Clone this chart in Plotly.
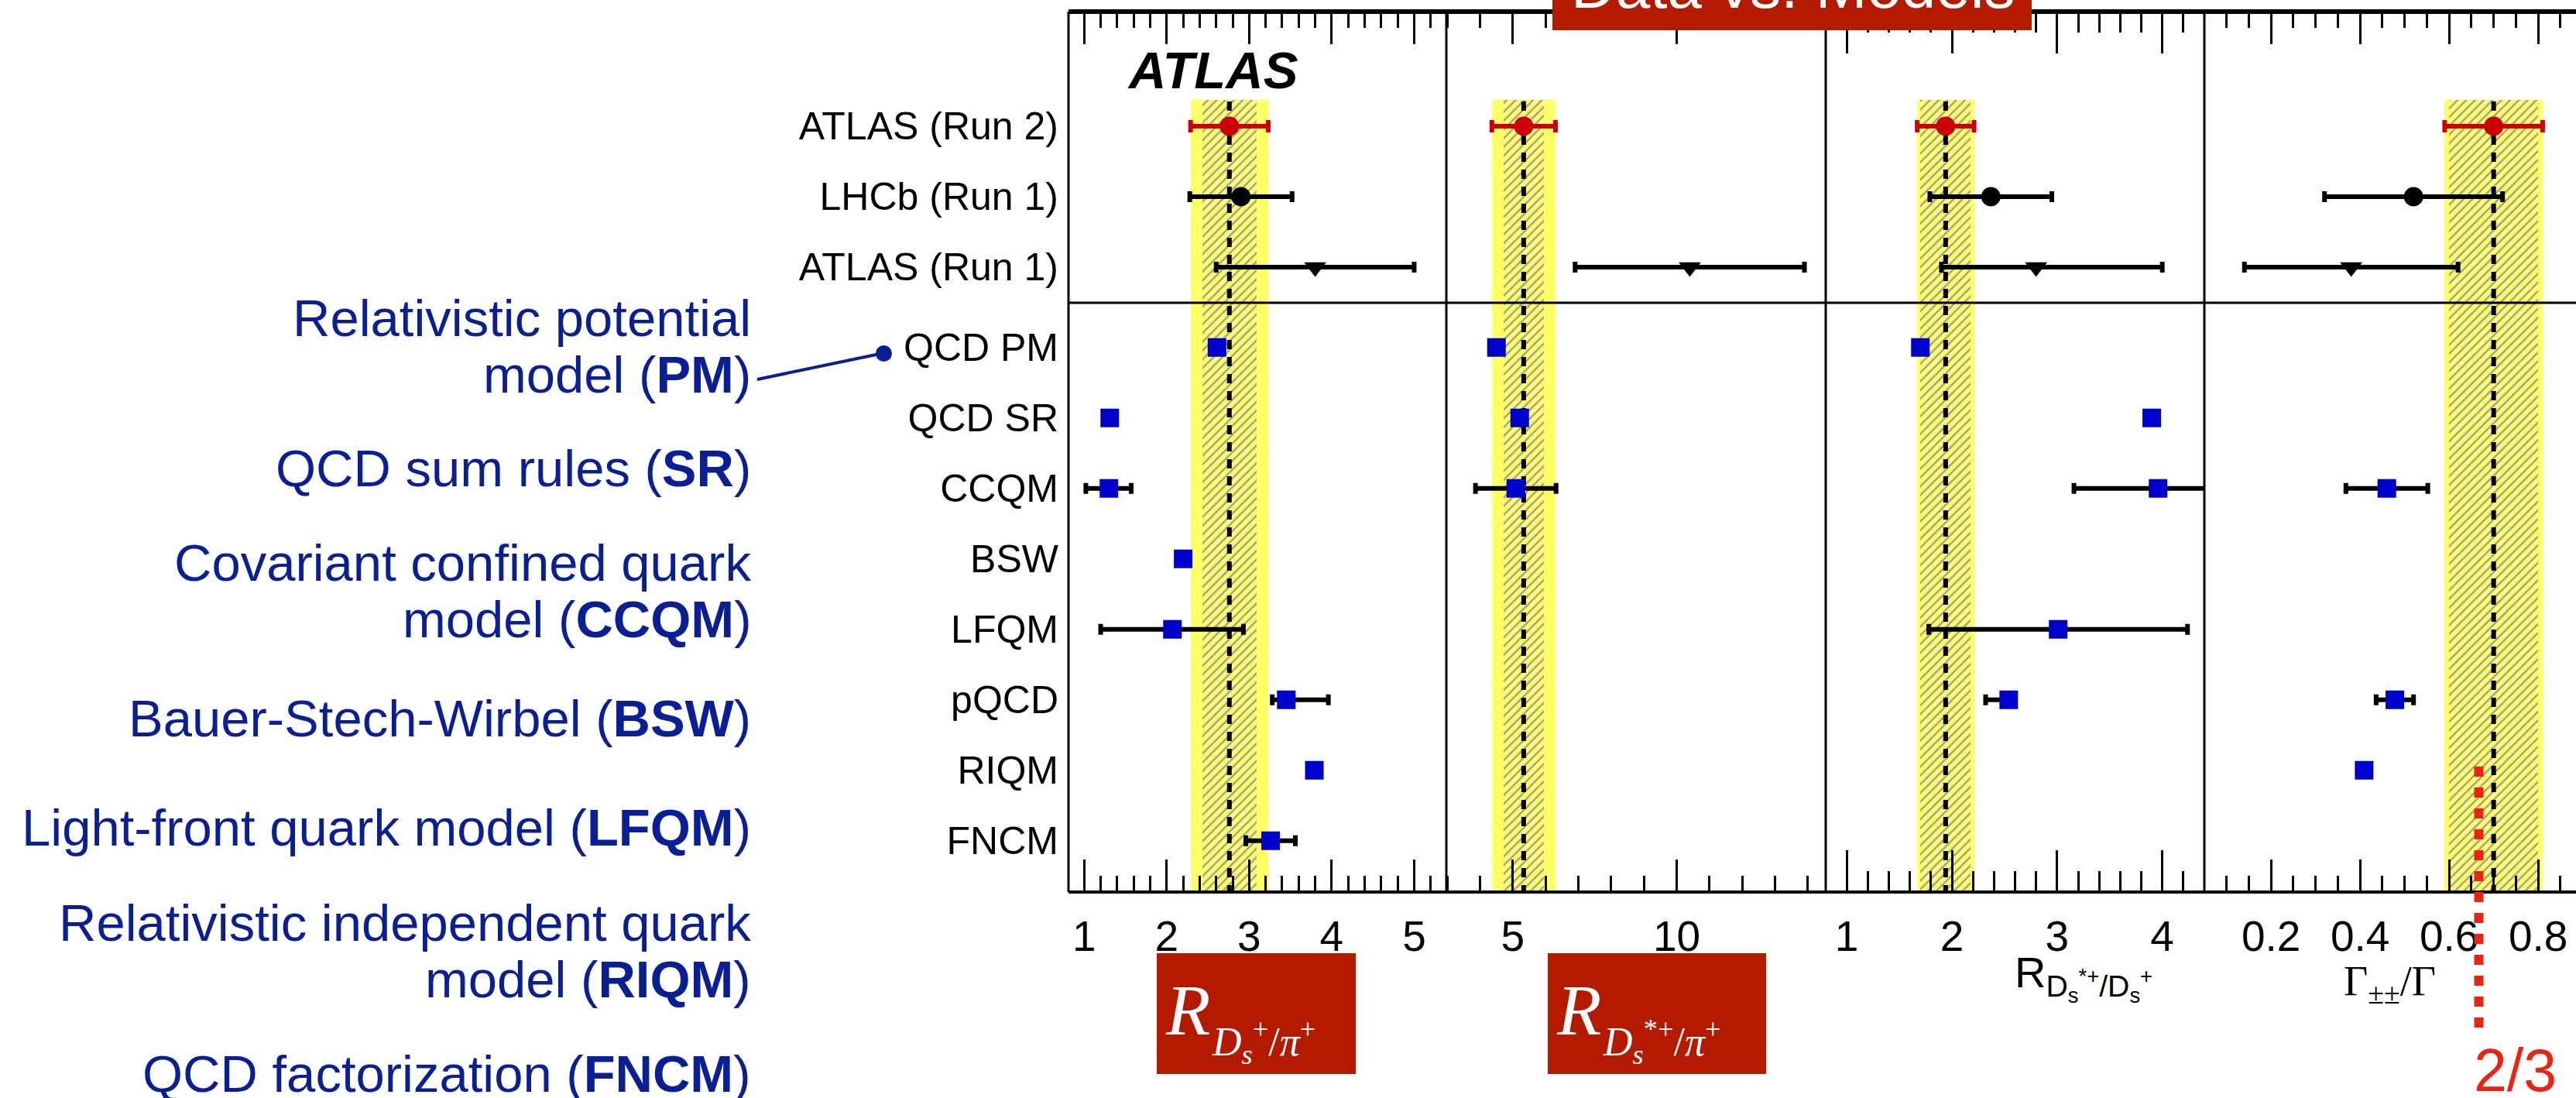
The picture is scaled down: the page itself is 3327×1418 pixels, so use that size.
import plotly.graph_objects as go

# ---------------- canvas geometry (pixels) ----------------
W, H = 3327, 1418
ML, MT, MB = 1380, 15, 266
PW, PH = W - ML, H - MT - MB


def xp(px):
    """horizontal pixel -> paper fraction"""
    return (px - ML) / PW


def yp(py):
    """vertical pixel -> paper fraction"""
    return (MT + PH - py) / PH


# ---------------- data ----------------
data_rows = ["ATLAS (Run 2)", "LHCb (Run 1)", "ATLAS (Run 1)"]
model_rows = ["QCD PM", "QCD SR", "CCQM", "BSW", "LFQM", "pQCD", "RIQM", "FNCM"]

# ATLAS Run 2 measurement: central value, total and statistical uncertainty
atlas2_val = [2.76, 5.33, 1.94, 0.70]
atlas2_tot = [0.47, 0.97, 0.27, 0.11]
atlas2_stat = [0.33, 0.62, 0.24, 0.10]

# LHCb Run 1
lhcb_val = [2.90, None, 2.37, 0.52]
lhcb_err = [0.62, None, 0.58, 0.20]

# ATLAS Run 1 (asymmetric)
atlas1_val = [3.8, 10.4, 2.8, 0.38]
atlas1_lo = [1.2, 3.5, 0.9, 0.24]
atlas1_hi = [1.2, 3.5, 1.2, 0.24]

# theory predictions, ordered as model_rows (None = not available)
rdspi_val = [2.61, 1.31, 1.30, 2.20, 2.07, 3.45, 3.79, 3.26]
rdspi_lo = [None, None, 0.28, None, 0.87, 0.17, None, 0.30]
rdspi_hi = [None, None, 0.27, None, 0.86, 0.51, None, 0.30]

rdsstpi_val = [4.50, 5.21, 5.09, None, None, None, None, None]
rdsstpi_lo = [None, None, 1.23, None, None, None, None, None]
rdsstpi_hi = [None, None, 1.23, None, None, None, None, None]

rdsstds_val = [1.70, 3.90, 3.96, None, 3.01, 2.54, None, None]
rdsstds_lo = [None, None, 0.80, None, 1.23, 0.22, None, None]
rdsstds_hi = [None, None, 0.80, None, 1.23, 0.0, None, None]

gpm_val = [None, None, 0.46, None, None, 0.478, 0.409, None]
gpm_lo = [None, None, 0.092, None, None, 0.042, None, None]
gpm_hi = [None, None, 0.092, None, None, 0.042, None, None]

model_val = [rdspi_val, rdsstpi_val, rdsstds_val, gpm_val]
model_lo = [rdspi_lo, rdsstpi_lo, rdsstds_lo, gpm_lo]
model_hi = [rdspi_hi, rdsstpi_hi, rdsstds_hi, gpm_hi]

# unpolarised expectation for the helicity fraction
gpm_expect = 2 / 3

# ---------------- panel / axis settings ----------------
bounds_px = [1380, 1868, 2358, 2847, 3327]
x_ranges = [[0.81, 5.39], [2.97, 14.55], [0.80, 4.40], [0.05, 0.885]]
x_dtick = [1, 5, 1, 0.2]
x_minor = [0.2, 1, 0.2, 0.05]
maj_len = [42, 42, 54, 42]
min_len = [21, 21, 27, 21]
x_fmt = ["d", "d", "d", ".1f"]

# row positions on the vertical axis
data_y = [0, 1, 2]
model_y = [3.14 + i for i in range(len(model_rows))]
y_range = [10.868, -1.626]
sep_y = 2.505
band_top, band_bot = -0.37, 11.2

YELLOW = "#ffff66"
HATCH = "#9c9c9c"
RED = "#cc0000"
BLUE_SQ = "#0000cc"
NAVY = "#0a1e96"
BOXRED = "#b31a00"
LINERED = "#ee2211"

fig = go.Figure()
axnames = ["x", "x2", "x3", "x4"]

for i, ax in enumerate(axnames):
    v, tot, st = atlas2_val[i], atlas2_tot[i], atlas2_stat[i]
    bc = (band_top + band_bot) / 2
    bw = band_bot - band_top
    # total uncertainty band
    fig.add_trace(go.Bar(
        orientation="h", y=[bc], x=[2 * tot], base=[v - tot], width=[bw],
        marker=dict(color=YELLOW, line=dict(width=0)),
        xaxis=ax, yaxis="y", showlegend=False, hoverinfo="skip"))
    # statistical band (hatched)
    fig.add_trace(go.Bar(
        orientation="h", y=[bc], x=[2 * st], base=[v - st], width=[bw],
        marker=dict(color=YELLOW, line=dict(width=0),
                    pattern=dict(shape="/", fgcolor=HATCH, bgcolor=YELLOW,
                                 size=8, solidity=0.3, fillmode="replace")),
        xaxis=ax, yaxis="y", showlegend=False, hoverinfo="skip"))
    # central value line
    fig.add_trace(go.Scatter(
        x=[v, v], y=[band_top + 0.02, band_bot], mode="lines",
        line=dict(color="black", width=6, dash="12px,10px"),
        xaxis=ax, yaxis="y", showlegend=False, hoverinfo="skip"))

    # theory predictions
    mx, my, mlo, mhi = [], [], [], []
    for j, val in enumerate(model_val[i]):
        if val is None:
            continue
        mx.append(val)
        my.append(model_y[j])
        mlo.append(model_lo[i][j] or 0)
        mhi.append(model_hi[i][j] or 0)
    if mx:
        fig.add_trace(go.Scatter(
            x=mx, y=my, mode="markers",
            marker=dict(symbol="square", size=24, color=BLUE_SQ),
            error_x=dict(type="data", symmetric=False, array=mhi,
                         arrayminus=mlo, color="black", thickness=6, width=7),
            xaxis=ax, yaxis="y", showlegend=False, hoverinfo="skip"))

    # ATLAS Run 1
    fig.add_trace(go.Scatter(
        x=[atlas1_val[i]], y=[data_y[2]], mode="markers",
        marker=dict(symbol="triangle-down", size=25, color="black"),
        error_x=dict(type="data", symmetric=False, array=[atlas1_hi[i]],
                     arrayminus=[atlas1_lo[i]], color="black",
                     thickness=6, width=7),
        xaxis=ax, yaxis="y", showlegend=False, hoverinfo="skip"))
    # LHCb Run 1
    if lhcb_val[i] is not None:
        fig.add_trace(go.Scatter(
            x=[lhcb_val[i]], y=[data_y[1]], mode="markers",
            marker=dict(symbol="circle", size=25, color="black"),
            error_x=dict(type="data", array=[lhcb_err[i]], color="black",
                         thickness=6, width=7),
            xaxis=ax, yaxis="y", showlegend=False, hoverinfo="skip"))
    # ATLAS Run 2
    fig.add_trace(go.Scatter(
        x=[v], y=[data_y[0]], mode="markers",
        marker=dict(symbol="circle", size=25, color=RED),
        error_x=dict(type="data", array=[tot], color=RED,
                     thickness=6, width=8),
        xaxis=ax, yaxis="y", showlegend=False, hoverinfo="skip"))

# ---------------- axes ----------------
layout_axes = {}
for i, ax in enumerate(axnames):
    key = "xaxis" if i == 0 else f"xaxis{i + 1}"
    layout_axes[key] = dict(
        domain=[xp(bounds_px[i]), xp(bounds_px[i + 1])],
        range=x_ranges[i], anchor="y",
        tickmode="linear", tick0=0, dtick=x_dtick[i], tickformat=x_fmt[i],
        ticks="inside", ticklen=maj_len[i], tickwidth=3, tickcolor="black",
        mirror="ticks", showline=False, showgrid=False, zeroline=False,
        minor=dict(ticks="inside", dtick=x_minor[i], tick0=0,
                   ticklen=min_len[i], tickwidth=3, tickcolor="black",
                   showgrid=False),
        tickfont=dict(family="Liberation Sans", size=55, color="black"),
        ticklabelstandoff=20,
    )

fig.update_layout(
    width=W, height=H,
    margin=dict(l=ML, r=0, t=MT, b=MB, pad=0),
    paper_bgcolor="white", plot_bgcolor="white",
    barmode="overlay", bargap=0,
    showlegend=False,
    yaxis=dict(
        range=y_range, anchor="x", showgrid=False, zeroline=False,
        showline=False, ticks="",
        tickvals=data_y + model_y, ticktext=data_rows + model_rows,
        tickfont=dict(family="Liberation Sans", size=50, color="black"),
        ticklabelstandoff=12,
    ),
    **layout_axes,
)

# ---------------- frame ----------------
frame = dict(type="line", xref="paper", yref="paper", layer="above")
fig.add_shape(**frame, x0=0, x1=1, y0=1, y1=1, line=dict(color="black", width=6))
fig.add_shape(**frame, x0=0, x1=1, y0=0, y1=0, line=dict(color="black", width=4))
for b in bounds_px[:-1]:
    fig.add_shape(**frame, x0=xp(b), x1=xp(b), y0=0, y1=1,
                  line=dict(color="black", width=3))
fig.add_shape(type="line", xref="paper", yref="y", layer="above",
              x0=0, x1=1, y0=sep_y, y1=sep_y, line=dict(color="black", width=3))

# 2/3 expectation marker on the helicity panel
fig.add_shape(type="line", xref="x4", yref="paper", layer="above",
              x0=gpm_expect, x1=gpm_expect, y0=yp(990), y1=yp(1332),
              line=dict(color=LINERED, width=12, dash="13px,14px"))


def note(text, x, y, size, color="black", family="Liberation Sans",
         xanchor="center", yanchor="middle"):
    fig.add_annotation(text=text, x=x, y=y, xref="paper", yref="paper",
                       showarrow=False, xanchor=xanchor, yanchor=yanchor,
                       font=dict(family=family, size=size, color=color))


note("<b><i>ATLAS</i></b>", xp(1566), yp(90), 67)

# title box at the top
fig.add_shape(type="rect", xref="paper", yref="paper", layer="above",
              x0=xp(2005), x1=xp(2624), y0=yp(39), y1=yp(-5),
              fillcolor=BOXRED, line=dict(width=0))
note("Data vs. Models", xp(2316), yp(29), 80, color="white",
     yanchor="bottom")

# model descriptions on the left
navy_lines = [
    ("Relativistic potential", 410),
    ("model (<b>PM</b>)", 483),
    ("QCD sum rules (<b>SR</b>)", 604),
    ("Covariant confined quark", 727),
    ("model (<b>CCQM</b>)", 799),
    ("Bauer-Stech-Wirbel (<b>BSW</b>)", 927),
    ("Light-front quark model (<b>LFQM</b>)", 1068),
    ("Relativistic independent quark", 1191),
    ("model (<b>RIQM</b>)", 1264),
    ("QCD factorization (<b>FNCM</b>)", 1386),
]
for txt, ypix in navy_lines:
    note(txt, xp(972), yp(ypix), 67, color=NAVY, xanchor="right")

fig.add_shape(type="line", xref="paper", yref="paper", layer="above",
              x0=xp(978), y0=yp(490), x1=xp(1141), y1=yp(456),
              line=dict(color=NAVY, width=4))
fig.add_shape(type="circle", xref="paper", yref="paper", layer="above",
              x0=xp(1131), x1=xp(1152), y0=yp(446), y1=yp(467),
              fillcolor=NAVY, line=dict(width=0))

# axis titles
for x0, x1 in [(1494, 1751), (1999, 2281)]:
    fig.add_shape(type="rect", xref="paper", yref="paper", layer="above",
                  x0=xp(x0), x1=xp(x1), y0=yp(1387), y1=yp(1231),
                  fillcolor=BOXRED, line=dict(width=0))

note("<i>R</i>", xp(1503), yp(1304), 94, color="white",
     family="Liberation Serif", xanchor="left")
note("<i>D</i><sub><i>s</i></sub><sup>+</sup>/<i>π</i><sup>+</sup>",
     xp(1563), yp(1345), 52, color="white", family="Liberation Serif",
     xanchor="left")
note("<i>R</i>", xp(2008), yp(1304), 94, color="white",
     family="Liberation Serif", xanchor="left")
note("<i>D</i><sub><i>s</i></sub><sup>*+</sup>/<i>π</i><sup>+</sup>",
     xp(2068), yp(1345), 52, color="white", family="Liberation Serif",
     xanchor="left")

note("R<sub>D<sub>s</sub><sup>*+</sup>/D<sub>s</sub><sup>+</sup></sub>",
     xp(2600), yp(1262), 56, xanchor="left")
note("Γ<sub>±±</sub>/Γ", xp(3025), yp(1270), 54, family="Liberation Serif",
     xanchor="left")

note("2/3", xp(3248), yp(1382), 77, color=LINERED)

fig.write_html("out.html")
